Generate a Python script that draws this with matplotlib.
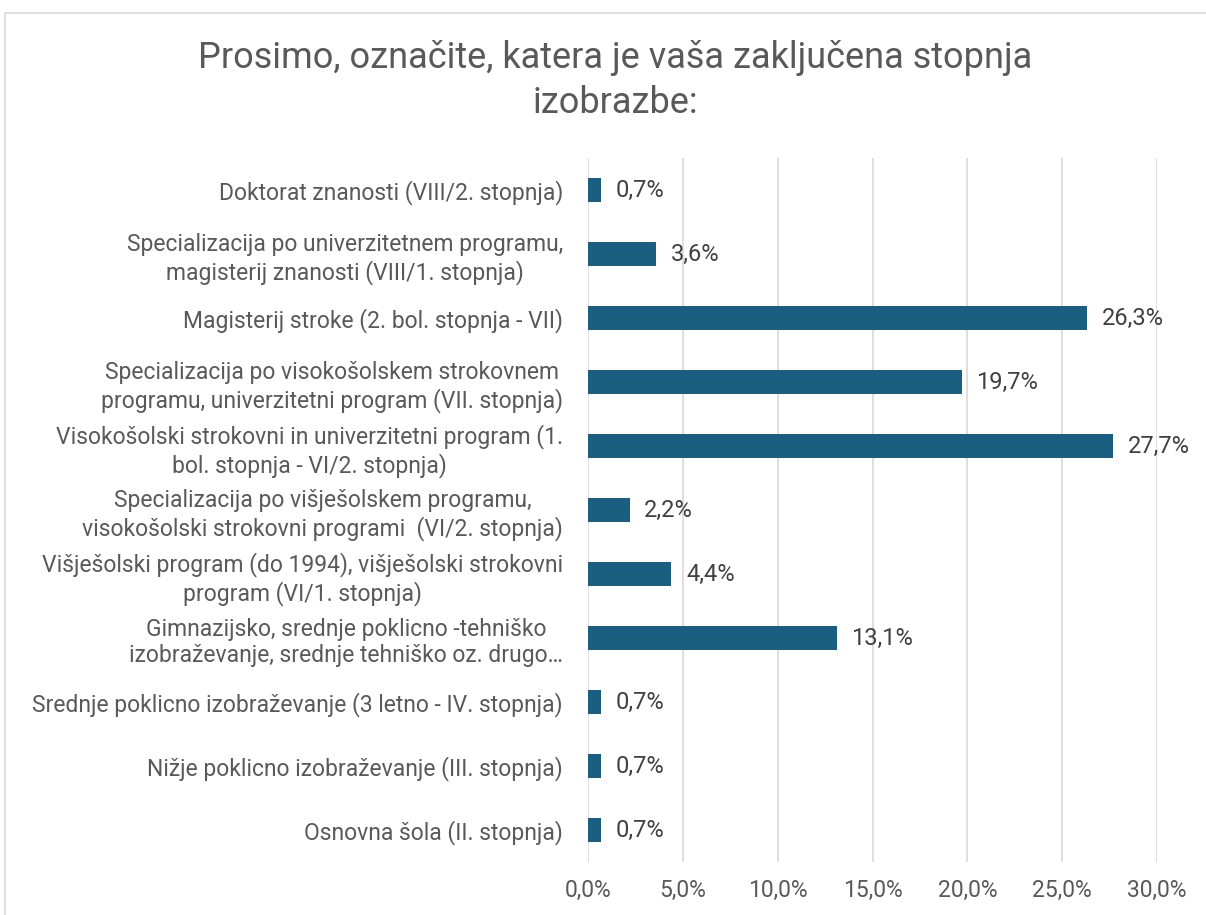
import matplotlib.pyplot as plt
from matplotlib.patches import Rectangle

categories = [
    "Doktorat znanosti (VIII/2. stopnja)",
    "Specializacija po univerzitetnem programu,\nmagisterij znanosti (VIII/1. stopnja)",
    "Magisterij stroke (2. bol. stopnja - VII)",
    "Specializacija po visokošolskem strokovnem\nprogramu, univerzitetni program (VII. stopnja)",
    "Visokošolski strokovni in univerzitetni program (1.\nbol. stopnja - VI/2. stopnja)",
    "Specializacija po višješolskem programu,\nvisokošolski strokovni programi  (VI/2. stopnja)",
    "Višješolski program (do 1994), višješolski strokovni\nprogram (VI/1. stopnja)",
    "Gimnazijsko, srednje poklicno -tehniško\nizobraževanje, srednje tehniško oz. drugo…",
    "Srednje poklicno izobraževanje (3 letno - IV. stopnja)",
    "Nižje poklicno izobraževanje (III. stopnja)",
    "Osnovna šola (II. stopnja)",
]
values = [0.7, 3.6, 26.3, 19.7, 27.7, 2.2, 4.4, 13.1, 0.7, 0.7, 0.7]
ticks = [0, 5, 10, 15, 20, 25, 30]

plt.rcParams['font.family'] = ['Roboto', 'DejaVu Sans']
text_col = '#595959'
bar_col = '#1a5e80'

fig = plt.figure(figsize=(12.06, 9.15), dpi=100)
ax = fig.add_axes([0.4876, 0.0579, 0.4718, 0.7694])

pos = list(range(len(categories)))
ax.barh(pos, values, height=0.375, color=bar_col, zorder=3)
ax.set_ylim(len(categories) - 0.5, -0.5)
ax.set_xlim(0, 30)

for y, v in zip(pos, values):
    ax.annotate(f"{v:.1f}%".replace('.', ','), (v, y), xytext=(10.5, 0),
                textcoords='offset points', va='center', ha='left',
                fontsize=17, color='#404040')

ax.set_xticks(ticks)
ax.set_xticklabels([f"{t:.1f}%".replace('.', ',') for t in ticks],
                   fontsize=16.5, color=text_col)
ax.set_yticks(pos)
ax.set_yticklabels(categories, fontsize=16.5, color=text_col,
                   multialignment='center')
ax.tick_params(length=0, pad=12, axis='x')
ax.tick_params(length=0, pad=18, axis='y')
ax.grid(axis='x', color='#d9d9d9', lw=1.2, zorder=0)
for s in ax.spines.values():
    s.set_visible(False)

fig.text(0.51, 0.912, "Prosimo, označite, katera je vaša zaključena stopnja\nizobrazbe:",
         ha='center', va='center', fontsize=26, color=text_col, linespacing=1.3)

fig.patches.append(Rectangle((0.004, -0.1), 1.2, 1.0858, transform=fig.transFigure,
                             fill=False, edgecolor='#d9d9d9', lw=1.2))

fig.savefig('out.png', dpi=100)
